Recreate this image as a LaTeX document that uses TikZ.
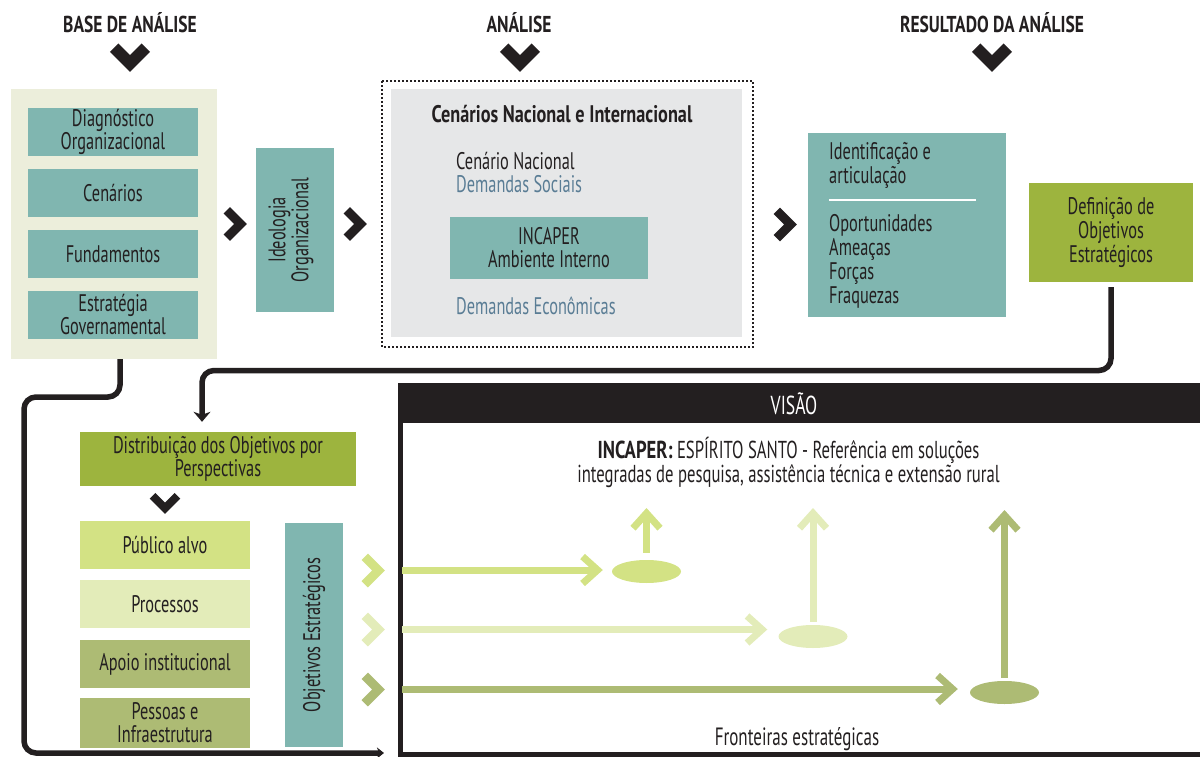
\documentclass[tikz,border=0pt]{standalone}
\usepackage{fontspec}
\setmainfont[FakeStretch=0.68, BoldFeatures={FakeStretch=0.76}]{PT Sans}
\usetikzlibrary{arrows.meta,shapes.geometric}
\definecolor{ink}{HTML}{231F20}
\definecolor{tealbg}{HTML}{80B6B0}
\definecolor{beigebg}{HTML}{ECEEDB}
\definecolor{graybg}{HTML}{E6E7E8}
\definecolor{olive}{HTML}{9DB43E}
\definecolor{pubc}{HTML}{D3E284}
\definecolor{procc}{HTML}{E3ECB9}
\definecolor{apoc}{HTML}{ADBB74}
\definecolor{demand}{HTML}{5A7D95}
\begin{document}
\begin{tikzpicture}[x=1pt,y=-1pt,
  lbl/.style={font=\fontsize{24}{23}\selectfont, text=ink, align=center},
  box/.style={lbl, fill=#1, inner sep=0pt},
  head/.style={font=\fontsize{23}{23}\selectfont\bfseries, text=ink, anchor=base},
  txt/.style={font=\fontsize{24}{24}\selectfont, text=ink, anchor=base west, inner sep=0pt},
  chevron/.style={draw=#1, line cap=butt, line join=miter},
  link/.style={draw=ink, line width=5.5pt, rounded corners=12pt},
  flow/.style={draw=#1, line width=7pt, -{Straight Barb[length=15pt,width=27pt]}},
  blob/.style={ellipse, fill=#1, inner sep=0pt, minimum width=69pt, minimum height=23pt}
]
\useasboundingbox (0,0) rectangle (1200,757);

% column headers and their chevrons
\node[head] (h1) at (130,33) {BASE DE ANÁLISE};
\node[head] (h2) at (519,33) {ANÁLISE};
\node[head] (h3) at (992,33) {RESULTADO DA ANÁLISE};
\foreach \cx in {130,520,992}
  \draw[chevron=ink, line width=12pt] (\cx-15.8,47.7) -- (\cx,63.5) -- (\cx+15.8,47.7);

% base of the analysis
\node[fill=beigebg, minimum width=206pt, minimum height=270pt, inner sep=0pt] (base) at (114,224) {};
\node[box=tealbg, minimum width=170pt, minimum height=48pt] (diag) at (113,132) {Diagnóstico\\Organizacional};
\node[box=tealbg, minimum width=170pt, minimum height=48pt] (cen) at (113,193) {Cenários};
\node[box=tealbg, minimum width=170pt, minimum height=48pt] (fund) at (113,254) {Fundamentos};
\node[box=tealbg, minimum width=170pt, minimum height=48pt] (estr) at (113,315) {Estratégia\\Governamental};

\node[box=tealbg, minimum width=78pt, minimum height=164pt] (ideo) at (295,230) {};
\node[lbl, rotate=90] (ideotxt) at (291,230) {Ideologia\\Organizacional};

% right-pointing chevrons between the columns
\foreach \cx/\cy in {240.6/224, 360.6/224, 790.6/224.5}
  \draw[chevron=ink, line width=9pt] (\cx-13.8,\cy-13.8) -- (\cx,\cy) -- (\cx-13.8,\cy+13.8);

% analysis: national and international scenarios
\draw[ink, line width=1.7pt, dash pattern=on 1.7pt off 2.3pt] (382,81) rectangle (753,347);
\node[fill=graybg, minimum width=351pt, minimum height=248pt, inner sep=0pt] (scen) at (566.5,213) {};
\node[font=\fontsize{24}{24}\selectfont\bfseries, text=ink, anchor=base] (scentitle) at (562,123) {Cenários Nacional e Internacional};
\node[txt] (nac) at (456,170) {Cenário Nacional};
\node[txt, text=demand] (soc) at (456,193) {Demandas Sociais};
\node[box=tealbg, minimum width=198pt, minimum height=62pt] (inc) at (549,248) {INCAPER\\Ambiente Interno};
\node[txt, text=demand] (eco) at (456,314) {Demandas Econômicas};

% result of the analysis
\node[fill=tealbg, minimum width=198pt, minimum height=184pt, inner sep=0pt] (res) at (907,225) {};
\node[txt] (r1) at (829,160) {Identificação e};
\node[txt] (r2) at (829,183) {articulação};
\draw[white, line width=2.5pt] (829,200) -- (976,200);
\node[txt] (r3) at (829,231) {Oportunidades};
\node[txt] (r4) at (829,255) {Ameaças};
\node[txt] (r5) at (829,279) {Forças};
\node[txt] (r6) at (829,303) {Fraquezas};

\node[box=olive, minimum width=164pt, minimum height=99pt, font=\fontsize{24}{24}\selectfont] (defin) at (1111,232.5) {Definição de\\Objetivos\\Estratégicos};

% distribution by perspectives
\node[box=olive, minimum width=276pt, minimum height=54pt] (distrib) at (218,459) {Distribuição dos Objetivos por\\Perspectivas};
\draw[chevron=ink, line width=8pt] (152.5,495.8) -- (165,508.3) -- (177.5,495.8);
\node[box=pubc, minimum width=170pt, minimum height=48pt] (pub) at (165,545) {Público alvo};
\node[box=procc, minimum width=170pt, minimum height=48pt] (proc) at (165,604) {Processos};
\node[box=apoc, minimum width=170pt, minimum height=48pt] (apo) at (165,664) {Apoio institucional};
\node[box=apoc, minimum width=170pt, minimum height=50pt] (pes) at (165,723) {Pessoas e\\Infraestrutura};
\node[box=tealbg, minimum width=58pt, minimum height=224pt] (obj) at (314,635) {};
\node[lbl, rotate=90] (objtxt) at (314,635) {Objetivos Estratégicos};
\foreach \cy/\cc in {570.5/pubc, 629.5/procc, 689.5/apoc}
  \draw[chevron=\cc, line width=9pt] (378.6-13.8,\cy-13.8) -- (378.6,\cy) -- (378.6-13.8,\cy+13.8);

% vision frame
\begin{scope}
\clip (0,0) rectangle (1200,757);
\draw[ink, line width=5pt] (400.5,420) -- (400.5,754.5) -- (1210,754.5);
\fill[ink] (398,383) rectangle (1200,423);
\end{scope}
\node[text=white, font=\fontsize{26}{26}\selectfont, inner sep=0pt] (visao) at (794,404) {VISÃO};
\node[font=\fontsize{24.5}{24}\selectfont, text=ink, anchor=base] (v1) at (788.5,458) {\textbf{INCAPER:} ESPÍRITO SANTO - Referência em soluções};
\node[font=\fontsize{24.5}{24}\selectfont, text=ink, anchor=base] (v2) at (788.5,482) {integradas de pesquisa, assistência técnica e extensão rural};
\node[font=\fontsize{25}{25}\selectfont, text=ink, anchor=base] (front) at (797,745) {Fronteiras estratégicas};

% strategic objectives moving towards the vision
\node[blob=pubc] (e1) at (646.5,571.5) {};
\node[blob=procc] (e2) at (813,636.5) {};
\node[blob=apoc] (e3) at (1004.5,692.5) {};
\coordinate (s1) at (402,570);
\coordinate (s2) at (402,629.5);
\coordinate (s3) at (402,689);
\coordinate (t1) at (646.5,508);
\coordinate (t2) at (813,508);
\coordinate (t3) at (1004.5,510);
\draw[flow=pubc, shorten >=9pt] (s1) -- (s1 -| e1.west);
\draw[flow=procc, shorten >=11pt] (s2) -- (s2 -| e2.west);
\draw[flow=apoc, shorten >=12pt] (s3) -- (s3 -| e3.west);
\draw[flow=pubc, shorten <=7pt] (e1.north) -- (t1);
\draw[flow=procc, shorten <=3pt] (e2.north) -- (t2);
\draw[flow=apoc, shorten <=3pt] (e3.north) -- (t3);

% feedback connectors
\coordinate (k1) at (1111,370.5);
\coordinate (k2) at (202,370.5);
\draw[link, shorten <=5pt, shorten >=10pt, -{Stealth[length=10pt,width=17pt,inset=3pt]}] (defin.south) -- (k1) -- (k2) -- (k2 |- distrib.north);
\coordinate (k3) at (120,397);
\coordinate (k4) at (24,397);
\coordinate (k5) at (24,753);
\coordinate (k6) at (384,753);
\draw[link, -{Stealth[length=7pt,width=11pt,inset=2pt]}] (base.south -| k3) -- (k3) -- (k4) -- (k5) -- (k6);
\end{tikzpicture}
\end{document}
